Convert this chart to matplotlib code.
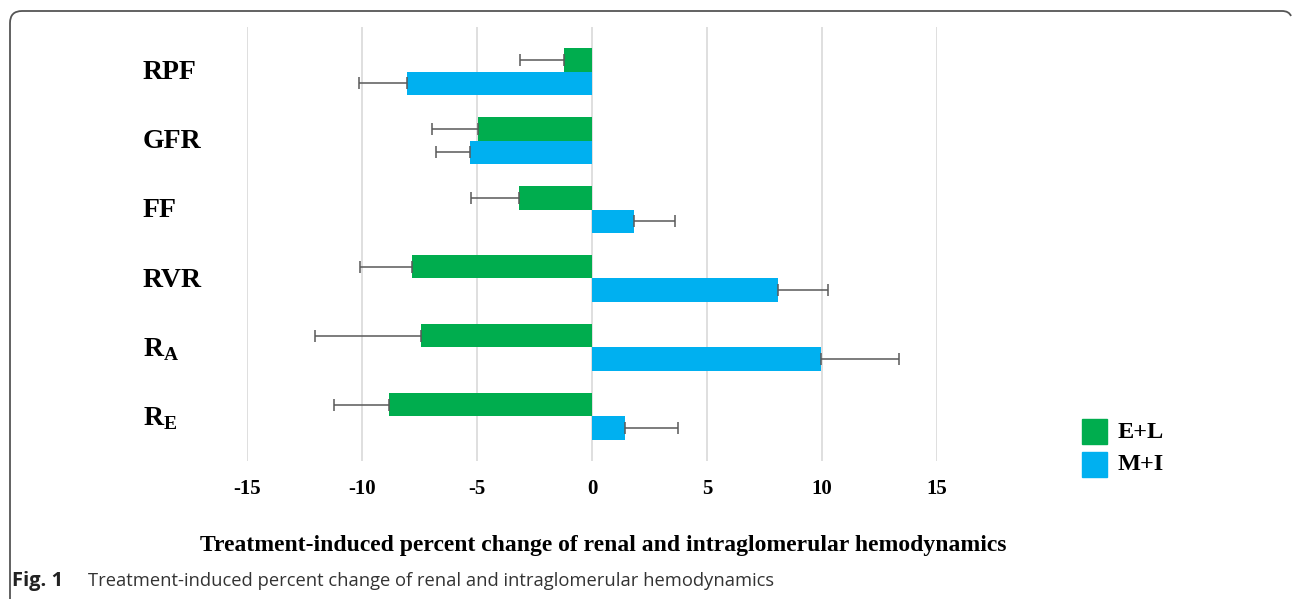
import numpy as np
import matplotlib.pyplot as plt
from matplotlib.path import Path
from matplotlib.patches import PathPatch, Rectangle

# values (% change) and one-sided error bar lengths
categories = ['RPF', 'GFR', 'FF', 'RVR', r'$\mathbf{R}_{\mathbf{A}}$', r'$\mathbf{R}_{\mathbf{E}}$']
el_values = [-1.22, -4.96, -3.17, -7.83, -7.43, -8.83]
el_err = [1.91, 2.00, 2.09, 2.27, 4.60, 2.37]
mi_values = [-8.04, -5.30, 1.83, 8.09, 9.96, 1.43]
mi_err = [2.10, 1.48, 1.78, 2.17, 3.39, 2.29]
xticks = [-15, -10, -5, 0, 5, 10, 15]

GREEN = '#00ad4e'
BLUE = '#00b0f0'
SERIF = 'Liberation Serif'

plt.rcParams['mathtext.fontset'] = 'custom'
plt.rcParams['mathtext.rm'] = SERIF
plt.rcParams['mathtext.bf'] = SERIF + ':bold'

W, H = 1293, 599
fig = plt.figure(figsize=(W / 100, H / 100), dpi=100)
ax = fig.add_axes([247 / W, 1 - 461 / H, 690 / W, 434 / H])

y = np.arange(len(categories))
h = 0.335


def one_sided(vals, errs):
    lo = [e if v < 0 else 0 for v, e in zip(vals, errs)]
    hi = [e if v >= 0 else 0 for v, e in zip(vals, errs)]
    return [lo, hi]


ax.barh(y - h / 2, el_values, height=h, color=GREEN, zorder=2)
ax.barh(y + h / 2, mi_values, height=h, color=BLUE, zorder=2)
ax.errorbar(el_values, y - h / 2, xerr=one_sided(el_values, el_err), fmt='none',
            ecolor='#595959', elinewidth=1.1, capsize=4, capthick=1.1, zorder=3)
ax.errorbar(mi_values, y + h / 2, xerr=one_sided(mi_values, mi_err), fmt='none',
            ecolor='#595959', elinewidth=1.1, capsize=4, capthick=1.1, zorder=3)

ax.set_xlim(-15, 15)
ax.set_ylim(len(categories) - 0.355, -0.645)
ax.set_xticks(xticks)
ax.set_xticklabels([str(t) for t in xticks], fontfamily=SERIF, fontweight='bold', fontsize=15)
ax.tick_params(axis='x', length=0, pad=13)
ax.set_yticks([])
ax.grid(axis='x', color='#d9d9d9', linewidth=1.2, zorder=0)
for s in ax.spines.values():
    s.set_visible(False)

# category labels sit left of the plot area, left aligned
for yi, lab in zip(y, categories):
    ax.text(143 / W, 1 - (72.5 + 69.2 * yi) / H, lab, transform=fig.transFigure,
            ha='left', va='center', fontfamily=SERIF, fontweight='bold', fontsize=20)

# legend
for i, (lab, col) in enumerate([('E+L', GREEN), ('M+I', BLUE)]):
    top = 419 + 33 * i
    fig.patches.append(Rectangle((1082 / W, 1 - (top + 25) / H), 25 / W, 25 / H,
                                 transform=fig.transFigure, color=col))
    fig.text(1118 / W, 1 - (top + 13) / H, lab, ha='left', va='center',
             fontfamily=SERIF, fontweight='bold', fontsize=17.5)

fig.text(603 / W, 1 - 546 / H, 'Treatment-induced percent change of renal and intraglomerular hemodynamics',
         ha='center', va='center', fontfamily=SERIF, fontweight='bold', fontsize=17)

fig.text(12 / W, 1 - 581 / H, 'Fig. 1', ha='left', va='center',
         fontfamily='Open Sans', fontweight='bold', fontsize=14.5, color='#222222')
fig.text(88 / W, 1 - 581 / H, 'Treatment-induced percent change of renal and intraglomerular hemodynamics',
         ha='left', va='center', fontfamily='Open Sans', fontsize=13.2, color='#333333')

# rounded frame (top and left edges)
r = 12
pts = [(10, H), (10, 11 + r), (10, 11), (10 + r, 11), (1282, 11), (1289, 11), (1291, 16)]
codes = [Path.MOVETO, Path.LINETO, Path.CURVE3, Path.CURVE3, Path.LINETO, Path.CURVE3, Path.CURVE3]
verts = [(px / W, 1 - py / H) for px, py in pts]
fig.patches.append(PathPatch(Path(verts, codes), transform=fig.transFigure,
                             fill=False, edgecolor='#555555', linewidth=1.3))

fig.savefig('out.png', dpi=100)
